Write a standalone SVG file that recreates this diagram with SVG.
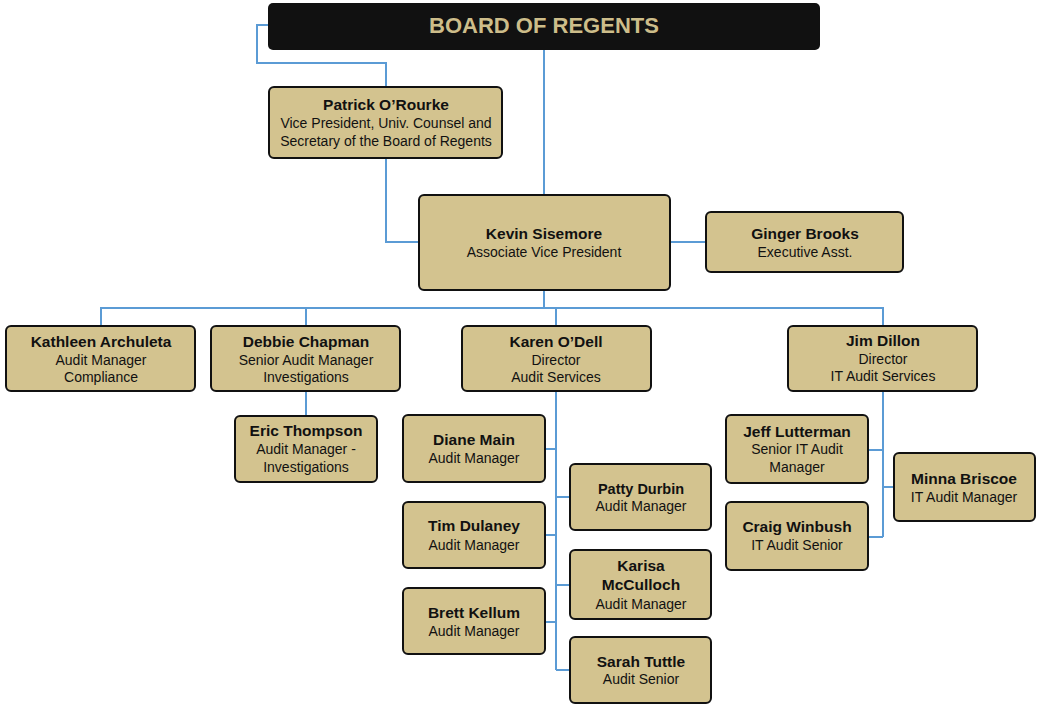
<svg xmlns="http://www.w3.org/2000/svg" width="1042" height="712" viewBox="0 0 1042 712">
<style>
.b{fill:#D3C38F;stroke:#111;stroke-width:2}
text{font-family:"Liberation Sans",Arial,sans-serif;text-anchor:middle;fill:#111}
.n{font-size:15.5px;font-weight:bold}
.s{font-size:14px}
.c{fill:none;stroke:#5B9BD5;stroke-width:2}
</style>
<rect width="1042" height="712" fill="#fff"/>
<g id="connectors" class="c">
<path d="M268 25H257V63H386V87"/>
<path d="M386 158V242H419"/>
<path d="M544 50V195"/>
<path d="M670 242H706"/>
<path d="M544 290V308M101 326V308H883V326M306 308V326M556 308V326"/>
<path d="M306 391V416"/>
<path d="M556 391V670M545 449H556M545 535H556M545 622H556M556 497H570M556 585H570M556 670H570"/>
<path d="M883 391V537M868 450H883M868 537H883M883 487H894"/>
</g>
<g id="board"><rect x="268" y="3" width="552" height="47" rx="5" fill="#111"/><text x="544" y="33" style="font-size:22px;font-weight:bold;fill:#CDBD8A">BOARD OF REGENTS</text></g>
<g id="patrick"><rect class="b" x="269" y="87" width="233" height="71" rx="5"/><text class="n" x="386" y="110">Patrick O’Rourke</text><text class="s" x="386" y="128">Vice President, Univ. Counsel and</text><text class="s" x="386" y="146">Secretary of the Board of Regents</text></g>
<g id="kevin"><rect class="b" x="419" y="195" width="251" height="95" rx="5"/><text class="n" x="544" y="239">Kevin Sisemore</text><text class="s" x="544" y="257">Associate Vice President</text></g>
<g id="ginger"><rect class="b" x="706" y="212" width="197" height="60" rx="5"/><text class="n" x="805" y="239">Ginger Brooks</text><text class="s" x="805" y="257">Executive Asst.</text></g>
<g id="kathleen"><rect class="b" x="6" y="326" width="189" height="65" rx="5"/><text class="n" x="101" y="347">Kathleen Archuleta</text><text class="s" x="101" y="365">Audit Manager</text><text class="s" x="101" y="382">Compliance</text></g>
<g id="debbie"><rect class="b" x="211" y="326" width="189" height="65" rx="5"/><text class="n" x="306" y="347">Debbie Chapman</text><text class="s" x="306" y="365">Senior Audit Manager</text><text class="s" x="306" y="382">Investigations</text></g>
<g id="karen"><rect class="b" x="462" y="326" width="189" height="65" rx="5"/><text class="n" x="556" y="347">Karen O’Dell</text><text class="s" x="556" y="365">Director</text><text class="s" x="556" y="382">Audit Services</text></g>
<g id="jim"><rect class="b" x="788" y="326" width="189" height="65" rx="5"/><text class="n" x="883" y="346">Jim Dillon</text><text class="s" x="883" y="364">Director</text><text class="s" x="883" y="381">IT Audit Services</text></g>
<g id="eric"><rect class="b" x="235" y="416" width="142" height="66" rx="5"/><text class="n" x="306" y="436">Eric Thompson</text><text class="s" x="306" y="454">Audit Manager -</text><text class="s" x="306" y="472">Investigations</text></g>
<g id="diane"><rect class="b" x="403" y="415" width="142" height="67" rx="5"/><text class="n" x="474" y="445">Diane Main</text><text class="s" x="474" y="463">Audit Manager</text></g>
<g id="tim"><rect class="b" x="403" y="502" width="142" height="66" rx="5"/><text class="n" x="474" y="531">Tim Dulaney</text><text class="s" x="474" y="550">Audit Manager</text></g>
<g id="brett"><rect class="b" x="403" y="588" width="142" height="66" rx="5"/><text class="n" x="474" y="618">Brett Kellum</text><text class="s" x="474" y="636">Audit Manager</text></g>
<g id="patty"><rect class="b" x="570" y="464" width="141" height="66" rx="5"/><text class="n" x="641" y="494" style="font-size:14.5px">Patty Durbin</text><text class="s" x="641" y="511">Audit Manager</text></g>
<g id="karisa"><rect class="b" x="570" y="550" width="141" height="69" rx="5"/><text class="n" x="641" y="571">Karisa</text><text class="n" x="641" y="590">McCulloch</text><text class="s" x="641" y="609">Audit Manager</text></g>
<g id="sarah"><rect class="b" x="570" y="637" width="141" height="66" rx="5"/><text class="n" x="641" y="667">Sarah Tuttle</text><text class="s" x="641" y="684">Audit Senior</text></g>
<g id="jeff"><rect class="b" x="726" y="415" width="142" height="68" rx="5"/><text class="n" x="797" y="437">Jeff Lutterman</text><text class="s" x="797" y="454">Senior IT Audit</text><text class="s" x="797" y="472">Manager</text></g>
<g id="craig"><rect class="b" x="726" y="502" width="142" height="68" rx="5"/><text class="n" x="797" y="532">Craig Winbush</text><text class="s" x="797" y="550">IT Audit Senior</text></g>
<g id="minna"><rect class="b" x="894" y="453" width="141" height="68" rx="5"/><text class="n" x="964" y="484">Minna Briscoe</text><text class="s" x="964" y="502">IT Audit Manager</text></g>
</svg>
